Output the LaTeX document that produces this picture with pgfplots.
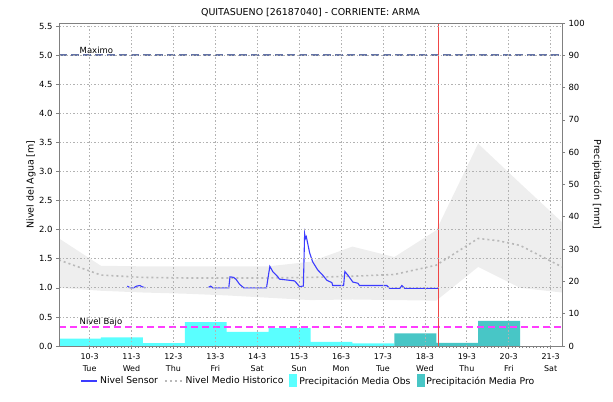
\documentclass[border=0pt]{standalone}
\usepackage{pgfplots}
\pgfplotsset{compat=1.18}
\usepgfplotslibrary{fillbetween}
\usepackage{fontspec}
\setmainfont{DejaVu Sans}
\definecolor{obs}{RGB}{90,255,255}
\definecolor{pro}{RGB}{72,198,198}
\definecolor{bandc}{RGB}{238,238,238}
\definecolor{meanc}{RGB}{185,185,185}
\definecolor{sensor}{RGB}{60,60,255}
\definecolor{maxc}{RGB}{100,115,165}
\definecolor{bajo}{RGB}{255,60,255}
\definecolor{gridc}{RGB}{178,178,178}
\definecolor{axc}{RGB}{128,128,128}
\definecolor{redl}{RGB}{240,70,70}
\pgfplotsset{
  common/.style={width=503bp,height=323bp,scale only axis,at={(0,0)},anchor=south west,
    xmin=-0.73,xmax=11.27,/pgf/number format/assume math mode=true},
}
\begin{document}
\begin{tikzpicture}
% axis 1: band, grid, left axis, x axis
\begin{axis}[common, ymin=0, ymax=5.5556, axis on top,
  xtick={0,1,2,3,4,5,6,7,8,9,10,11},
  xticklabels={{10-3\\Tue},{11-3\\Wed},{12-3\\Thu},{13-3\\Fri},{14-3\\Sat},{15-3\\Sun},{16-3\\Mon},{17-3\\Tue},{18-3\\Wed},{19-3\\Thu},{20-3\\Fri},{21-3\\Sat}},
  xticklabel style={align=center,font=\fontsize{8}{11.8}\selectfont,yshift=-1bp},
  minor x tick num=11,
  ytick={0,0.5,1,1.5,2,2.5,3,3.5,4,4.5,5,5.5},
  yticklabel style={font=\fontsize{8.5}{10}\selectfont,/pgf/number format/.cd,fixed,fixed zerofill,precision=1},
  xtick pos=left, ytick pos=left, tick align=outside,
  major tick length=3bp, minor tick length=2bp,
  xmajorgrids=true, ymajorgrids=true, xminorgrids=false,
  major grid style={gridc,dash pattern=on 1.5bp off 2bp,line width=0.75bp},
  axis line style={axc,line width=0.8bp},
  tick style={axc,line width=0.7bp},
  ylabel={Nivel del Agua [m]},
  every axis y label/.style={at={(axis description cs:-0.0557,0.5)},rotate=90,anchor=center,font=\fontsize{9.5}{11}\selectfont},
  title={QUITASUENO [26187040] - CORRIENTE: ARMA},
  title style={font=\fontsize{9.5}{11}\selectfont,at={(axis description cs:0.5,1)},anchor=base,yshift=1.5bp},
]
\addplot[draw=none,name path=hi] coordinates {(-0.73,1.85) (0.27,1.38) (1.27,1.37) (2.27,1.37) (3.27,1.37) (4.27,1.37) (5.27,1.45) (6.27,1.71) (7.27,1.53) (8.27,1.99) (9.27,3.48) (10.27,2.80) (11.27,2.13)};
\addplot[draw=none,name path=lo] coordinates {(-0.73,1.00) (0.27,0.95) (1.27,0.92) (2.27,0.90) (3.27,0.87) (4.27,0.83) (5.27,0.79) (6.27,0.80) (7.27,0.79) (8.27,0.78) (9.27,1.36) (10.27,1.00) (11.27,0.92)};
\addplot[bandc,draw=none] fill between[of=hi and lo];
\end{axis}
% axis 2: precipitation bars, right axis, legend
\begin{axis}[common, ymin=0, ymax=100,
  axis y line*=right, axis x line=none,
  ytick={0,10,20,30,40,50,60,70,80,90,100},
  yticklabel style={font=\fontsize{8.5}{10}\selectfont},
  tick align=outside, major tick length=3bp,
  axis line style={axc,line width=0.8bp},
  tick style={axc,line width=0.7bp},
  ylabel={Precipitación [mm]},
  every axis y label/.style={at={(axis description cs:1.0696,0.5)},rotate=-90,anchor=center,font=\fontsize{9.5}{11}\selectfont},
  legend style={at={(axis description cs:0.496,-0.108)},anchor=center,draw=none,fill=none,
    legend columns=-1,font=\fontsize{9.3}{11}\selectfont,
    /tikz/every even column/.append style={column sep=4bp}},
]
\addlegendimage{legend image code/.code={\draw[draw=sensor,line width=1.4bp] (0bp,0bp) -- (16bp,0bp);}}
\addlegendentry{Nivel Sensor}
\addlegendimage{legend image code/.code={\draw[draw=meanc,line width=1.6bp,dash pattern=on 2bp off 3bp] (0bp,0bp) -- (18bp,0bp);}}
\addlegendentry{Nivel Medio Historico}
\addplot[ybar interval,fill=obs,draw=none,
  legend image code/.code={\fill[obs] (0bp,-6bp) rectangle (8bp,7bp);}]
  coordinates {(-0.73,2.3) (0.27,2.7) (1.27,0.9) (2.27,7.4) (3.27,4.4) (4.27,5.5) (5.27,1.3) (6.27,0.8) (7.27,0)};
\addlegendentry{Precipitación Media Obs}
\addplot[ybar interval,fill=pro,draw=none,
  legend image code/.code={\fill[pro] (0bp,-6bp) rectangle (8bp,7bp);}]
  coordinates {(7.27,3.9) (8.27,1.0) (9.27,7.8) (10.27,0)};
\addlegendentry{Precipitación Media Pro}
\end{axis}
% axis 3: lines
\begin{axis}[common, ymin=0, ymax=5.5556, hide axis]
\addplot[meanc,line width=1.6bp,dash pattern=on 2bp off 3bp] coordinates {(-0.73,1.48) (0.27,1.22) (1.27,1.18) (2.27,1.17) (3.27,1.17) (4.27,1.17) (5.27,1.18) (6.27,1.20) (7.27,1.23) (8.27,1.39) (9.27,1.85) (9.75,1.81) (10.27,1.73) (11.27,1.36)};
\addplot[sensor,line width=1.1bp] coordinates {(0.90,1.03) (0.97,1.00) (1.05,1.00) (1.12,1.03) (1.20,1.04) (1.25,1.02) (1.33,1.00)};
\addplot[sensor,line width=1.1bp] coordinates {(2.84,1.01) (2.89,1.03) (2.94,1.00) (3.32,1.00) (3.35,1.19) (3.44,1.18) (3.50,1.14) (3.58,1.06) (3.68,1.00) (4.22,1.00) (4.30,1.37) (4.37,1.28) (4.49,1.19) (4.53,1.15) (4.77,1.13) (4.89,1.12) (4.94,1.08) (5.01,1.02) (5.08,1.03) (5.10,1.03) (5.13,1.93) (5.15,1.85) (5.17,1.88) (5.25,1.60) (5.32,1.45) (5.44,1.31) (5.56,1.22) (5.66,1.13) (5.78,1.09) (5.80,1.04) (6.06,1.04) (6.09,1.28) (6.16,1.22) (6.28,1.10) (6.40,1.08) (6.44,1.04) (7.09,1.04) (7.16,0.99) (7.40,0.99) (7.45,1.04) (7.52,0.99) (8.31,0.99)};
\addplot[maxc,line width=2bp,dash pattern=on 8bp off 4bp] coordinates {(-0.73,5) (11.27,5)};
\addplot[bajo,line width=1.6bp,dash pattern=on 7bp off 4bp] coordinates {(-0.73,0.33) (11.27,0.33)};
\addplot[redl,line width=1bp] coordinates {(8.32,0) (8.32,5.5556)};
\node[anchor=base west,inner sep=0pt,font=\fontsize{8.5}{10}\selectfont] at (axis cs:-0.24,5.0) [yshift=1.5bp] {Maximo};
\node[anchor=base west,inner sep=0pt,font=\fontsize{8.5}{10}\selectfont] at (axis cs:-0.24,0.33) [yshift=2.5bp] {Nivel Bajo};
\end{axis}
\pgfresetboundingbox
\path[use as bounding box] (-59bp,-56bp) rectangle (554bp,346bp);
\end{tikzpicture}
\end{document}
